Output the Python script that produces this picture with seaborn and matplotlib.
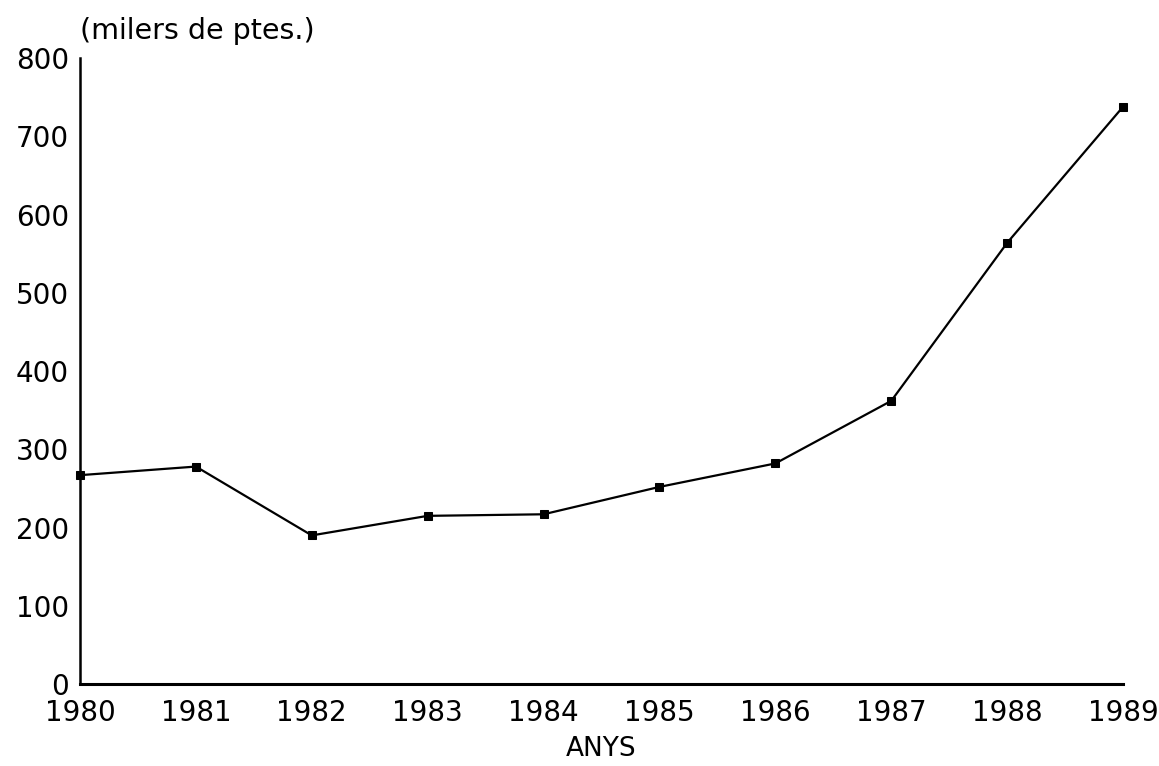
import pandas as pd
import matplotlib
matplotlib.use("Agg")
import matplotlib.pyplot as plt
import seaborn as sns

# Values (milers de pessetes)
years = [1980, 1981, 1982, 1983, 1984, 1985, 1986, 1987, 1988, 1989]
values = [267, 278, 190, 215, 217, 252, 282, 362, 564, 738]
y_ticks = [0, 100, 200, 300, 400, 500, 600, 700, 800]

sns.set_style("white")
plt.rcParams['font.family'] = ['DejaVu Sans']
plt.rcParams['text.color'] = 'black'
plt.rcParams['axes.labelcolor'] = 'black'

df = pd.DataFrame({"any": years, "valor": values})

fig = plt.figure(figsize=(11.59, 7.66), dpi=100)
ax = fig.add_axes([0.069, 0.107, 0.9, 0.817])

sns.lineplot(data=df, x="any", y="valor", ax=ax, color="black", linewidth=1.6,
             marker="s", markersize=6, markeredgecolor="black", clip_on=False)

ax.set_xlim(years[0], years[-1])
ax.set_ylim(0, 800)
ax.set_xticks(years)
ax.set_yticks(y_ticks)
ax.tick_params(axis="both", length=0, labelsize=20, colors="black")
ax.tick_params(axis="x", pad=11)
ax.tick_params(axis="y", pad=8)

sns.despine(ax=ax)
ax.spines["left"].set_linewidth(1.8)
ax.spines["bottom"].set_linewidth(2.2)
ax.spines["left"].set_color("black")
ax.spines["bottom"].set_color("black")

ax.set_xlabel("ANYS", fontsize=19, labelpad=6)
ax.set_ylabel("")
fig.text(0.069, 0.96, "(milers de ptes.)", fontsize=20.5, ha="left", va="center")

fig.savefig("out.png", dpi=100)
plt.close(fig)
